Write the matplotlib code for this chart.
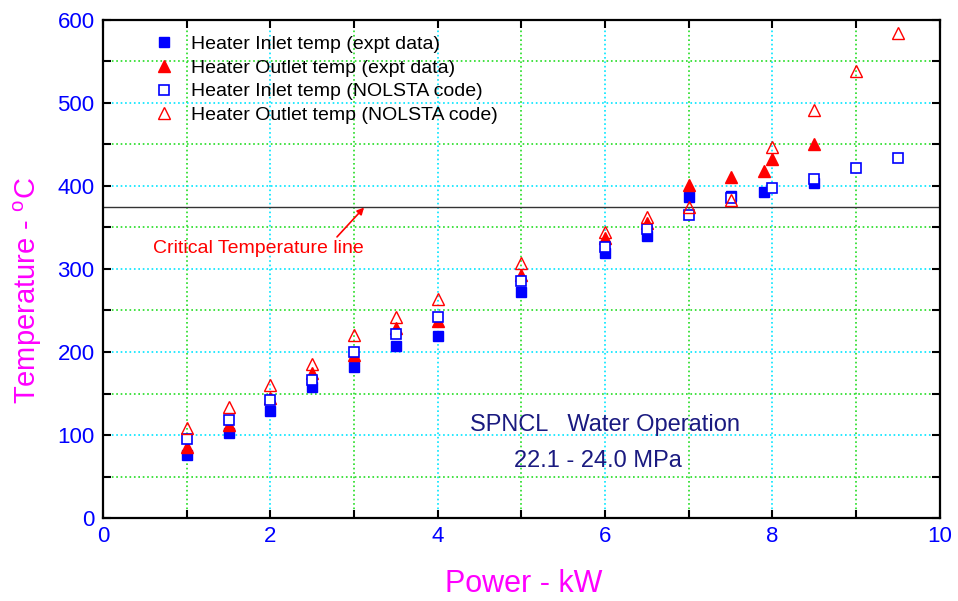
import numpy as np
import matplotlib
matplotlib.use('Agg')
import matplotlib.pyplot as plt
from matplotlib.ticker import MultipleLocator

plt.rcParams['font.family'] = ['Liberation Sans', 'DejaVu Sans']
plt.rcParams['mathtext.fontset'] = 'custom'
plt.rcParams['mathtext.rm'] = 'Liberation Sans'

# heater inlet, experiment
p_in_exp = [1, 1.5, 2, 2.5, 3, 3.5, 4, 5, 6, 6.5, 7, 7.5, 7.9, 8.5]
t_in_exp = [76, 102, 129, 158, 182, 207, 219, 272, 319, 340, 387, 388, 393, 404]

# heater outlet, experiment
p_out_exp = [1, 1.5, 2, 2.5, 3, 3.5, 4, 5, 6, 6.5, 7, 7.5, 7.9, 8, 8.5]
t_out_exp = [85, 112, 145, 175, 196, 229, 237, 293, 337, 355, 401, 411, 418, 432, 451]

# heater inlet, NOLSTA code
p_in_code = [1, 1.5, 2, 2.5, 3, 3.5, 4, 5, 6, 6.5, 7, 7.5, 8, 8.5, 9, 9.5]
t_in_code = [95, 118, 142, 166, 200, 222, 242, 285, 326, 348, 365, 386, 398, 408, 422, 434]

# heater outlet, NOLSTA code
p_out_code = [1, 1.5, 2, 2.5, 3, 3.5, 4, 5, 6, 6.5, 7, 7.5, 8, 8.5, 9, 9.5]
t_out_code = [108, 134, 160, 186, 220, 242, 264, 307, 345, 363, 374, 383, 447, 491, 538, 584]

t_critical = 374

fig = plt.figure(figsize=(9.58, 6.01), dpi=100)
ax = fig.add_axes([0.1075, 0.138, 0.8735, 0.829])

ax.plot(p_in_exp, t_in_exp, 's', color='#0000ff', ms=7, mec='#0000ff', zorder=3,
        label='Heater Inlet temp (expt data)')
ax.plot(p_out_exp, t_out_exp, '^', color='#ff0000', ms=9, mec='#ff0000', zorder=3,
        label='Heater Outlet temp (expt data)')
ax.plot(p_in_code, t_in_code, 's', mfc='white', mec='#0000ff', ms=7, mew=1.2, zorder=4,
        label='Heater Inlet temp (NOLSTA code)')
ax.plot(p_out_code, t_out_code, '^', mfc='none', mec='#ff0000', ms=9, mew=1.0, zorder=5,
        label='Heater Outlet temp (NOLSTA code)')

ax.axhline(t_critical, color='#333333', lw=1.0, zorder=2)
ax.annotate('Critical Temperature line', xy=(3.12, t_critical), xytext=(0.6, 325),
            color='#ff0000', fontsize=14, va='center',
            arrowprops=dict(arrowstyle='-|>', color='#ff0000', lw=1.2,
                            shrinkA=0, shrinkB=0, mutation_scale=10,
                            relpos=(0.86, 1.0)))

ax.text(6.0, 112, 'SPNCL   Water Operation', color='#1a1a80', fontsize=17,
        ha='center', va='center')
ax.text(5.91, 69, '22.1 - 24.0 MPa', color='#1a1a80', fontsize=17,
        ha='center', va='center')

ax.set_xlim(0, 10)
ax.set_ylim(0, 600)
ax.xaxis.set_major_locator(MultipleLocator(2))
ax.xaxis.set_minor_locator(MultipleLocator(1))
ax.yaxis.set_major_locator(MultipleLocator(100))
ax.yaxis.set_minor_locator(MultipleLocator(50))

ax.grid(True, which='major', color='#00e5ff', ls=':', lw=1.2)
ax.grid(True, which='minor', color='#22dd22', ls=':', lw=1.2)
ax.set_axisbelow(True)

ax.tick_params(which='both', direction='in', top=True, right=True, length=6,
               width=1.5, color='black')
ax.tick_params(which='major', labelsize=16, labelcolor='#0000ff', pad=6)
for s in ax.spines.values():
    s.set_linewidth(1.6)

ax.set_xlabel('Power - kW', color='#ff00ff', fontsize=22)
ax.set_ylabel('Temperature - $^{\\rm o}$C', color='#ff00ff', fontsize=21)
ax.xaxis.set_label_coords(0.503, -0.103)
ax.yaxis.set_label_coords(-0.070, 0.456)

ax.legend(loc='upper left', bbox_to_anchor=(0.04, 0.985), frameon=False, fontsize=14,
          handletextpad=0.4, labelspacing=0.32, borderaxespad=0, numpoints=1)

fig.savefig('out.png', dpi=100)
